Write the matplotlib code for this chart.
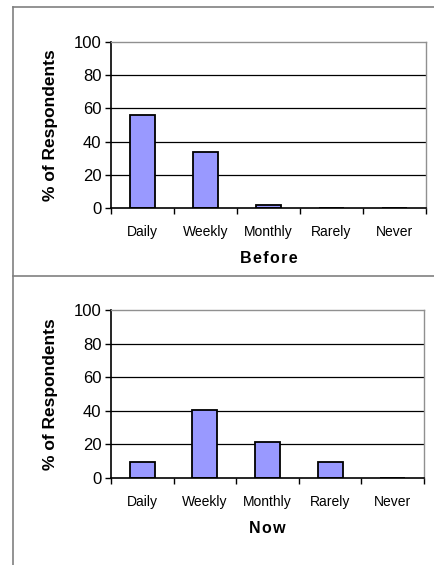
import matplotlib
matplotlib.use("Agg")
import matplotlib.pyplot as plt
import numpy as np
from matplotlib.lines import Line2D

categories = ["Daily", "Weekly", "Monthly", "Rarely", "Never"]
before_values = [56, 34, 2, 0, 0]
now_values = [9.5, 40.5, 21.5, 9.5, 0]
yticks = [0, 20, 40, 60, 80, 100]
panel_titles = ["Before", "Now"]
ylabel = "% of Respondents"

plt.rcParams['font.family'] = ['Liberation Sans', 'DejaVu Sans']

W, H = 435, 565
fig = plt.figure(figsize=(W / 100, H / 100), dpi=100)

def fx(px):
    return px / W

def fy(py):
    return 1 - py / H

# frame lines
gray = "#808080"
fig.add_artist(Line2D([fx(13), 1], [fy(7), fy(7)], color=gray, lw=1.2))
fig.add_artist(Line2D([fx(13), 1], [fy(275.5), fy(275.5)], color=gray, lw=1.2))
fig.add_artist(Line2D([fx(13), fx(13)], [fy(7), 0], color=gray, lw=1.2))

axes_boxes = [(111, 42, 426, 208), (111, 310, 424, 478)]
values_list = [before_values, now_values]

for (x0, y0, x1, y1), vals, title in zip(axes_boxes, values_list, panel_titles):
    ax = fig.add_axes([fx(x0), fy(y1), fx(x1) - fx(x0), fy(y0) - fy(y1)])
    x = np.arange(len(categories))
    ax.bar(x, vals, width=0.4, color="#9999ff", edgecolor="black", linewidth=1.3, zorder=3)
    ax.set_xlim(-0.5, len(categories) - 0.5)
    ax.set_ylim(0, 100)
    ax.set_yticks(yticks)
    ax.set_yticklabels([str(v) for v in yticks], fontsize=12)
    for v in yticks[1:-1]:
        ax.axhline(v, color="black", lw=0.9, zorder=1)
    ax.set_xticks(np.arange(-0.5, len(categories), 1.0))
    ax.set_xticklabels([])
    ax.set_xticks(x, minor=True)
    ax.set_xticklabels(categories, minor=True, fontsize=10)
    ax.tick_params(axis='x', which='minor', length=0, pad=12)
    ax.tick_params(axis='x', which='major', length=4, width=1, direction='out')
    ax.tick_params(axis='y', length=4, width=1, direction='out', pad=3)
    for s in ["top", "right"]:
        ax.spines[s].set_color("#909090")
        ax.spines[s].set_linewidth(1)
    for s in ["left", "bottom"]:
        ax.spines[s].set_color("black")
        ax.spines[s].set_linewidth(1.2)
    ax.spines["bottom"].set_zorder(4)
    spaced = "\u200a".join(title)
    ax.set_xlabel(spaced, fontsize=11.5, fontweight="bold", labelpad=9)
    ax.set_ylabel(ylabel, fontsize=12.5, fontweight="bold", labelpad=11)

fig.savefig("out.png", dpi=100)
